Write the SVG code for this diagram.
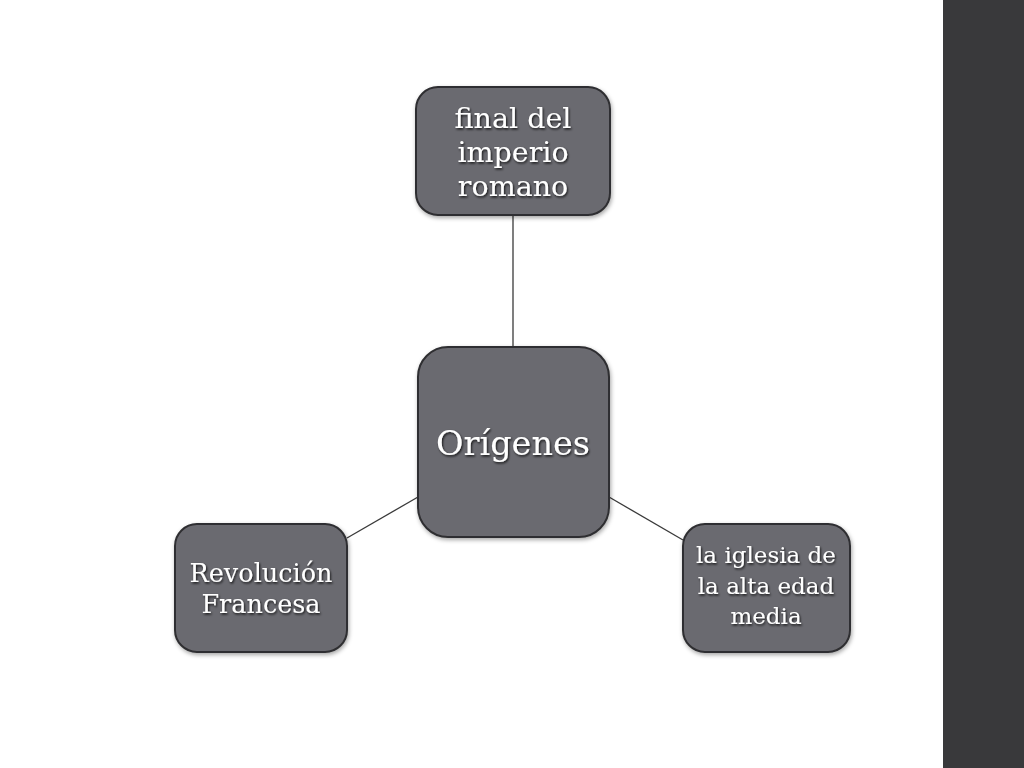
<svg xmlns="http://www.w3.org/2000/svg" width="1024" height="768" viewBox="0 0 1024 768">
<defs>
<filter id="boxShadow" x="-20%" y="-20%" width="140%" height="140%">
<feDropShadow dx="1" dy="2" stdDeviation="2" flood-color="#000" flood-opacity="0.35"/>
</filter>
<filter id="txtShadow" x="-10%" y="-20%" width="120%" height="140%">
<feDropShadow dx="1" dy="1.5" stdDeviation="0.8" flood-color="#000" flood-opacity="0.8"/>
</filter>
</defs>
<style>
.node{fill:#6b6a70;stroke:#2e2e30;stroke-width:2;filter:url(#boxShadow)}
.lbl{font-family:"DejaVu Serif","Liberation Serif",serif;fill:#ffffff;text-anchor:middle;filter:url(#txtShadow)}
.conn{stroke:#3a3a3a;stroke-width:1.3;fill:none}
</style>
<rect x="0" y="0" width="1024" height="768" fill="#ffffff"/>
<rect x="943" y="0" width="81" height="768" fill="#39393b"/>
<g id="connectors">
<line class="conn" x1="513" y1="215" x2="513" y2="347"/>
<line class="conn" x1="347" y1="538" x2="418" y2="497"/>
<line class="conn" x1="609" y1="497" x2="683" y2="540"/>
</g>
<g id="node-top">
<rect class="node" x="416" y="87" width="194" height="128" rx="22"/>
<text class="lbl" font-size="28.5" x="513"><tspan x="513" y="128">final del</tspan><tspan x="513" y="162">imperio</tspan><tspan x="513" y="196">romano</tspan></text>
</g>
<g id="node-center">
<rect class="node" x="418" y="347" width="191" height="190" rx="30"/>
<text class="lbl" font-size="33.5" x="513" y="455">Orígenes</text>
</g>
<g id="node-left">
<rect class="node" x="175" y="524" width="172" height="128" rx="22"/>
<text class="lbl" font-size="25.5" x="261"><tspan x="261" y="582">Revolución</tspan><tspan x="261" y="613">Francesa</tspan></text>
</g>
<g id="node-right">
<rect class="node" x="683" y="524" width="167" height="128" rx="22"/>
<text class="lbl" font-size="23" x="766"><tspan x="766" y="563">la iglesia de</tspan><tspan x="766" y="594">la alta edad</tspan><tspan x="766" y="624">media</tspan></text>
</g>
</svg>
